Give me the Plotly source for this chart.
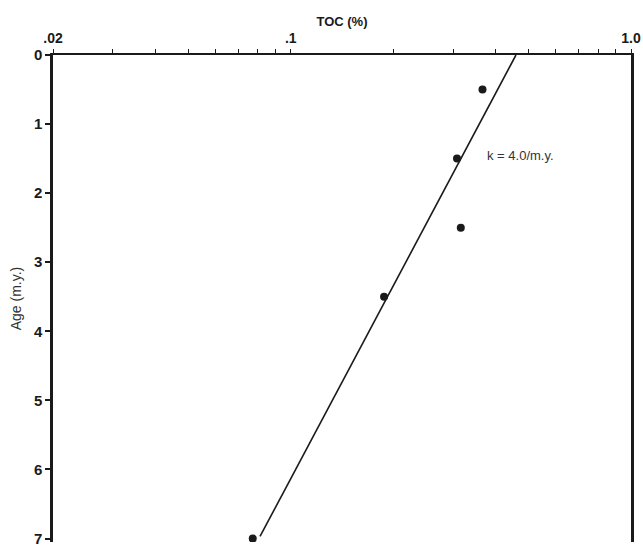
import math
import plotly.graph_objects as go

# Data
toc_pct = [0.366, 0.308, 0.316, 0.188, 0.0773]
age_my = [0.5, 1.5, 2.5, 3.5, 7.0]

fit_toc = [0.459, 0.0812]
fit_age = [0.0, 6.97]

x_tickvals = [0.02, 0.03, 0.04, 0.05, 0.06, 0.07, 0.08, 0.09, 0.1,
              0.2, 0.3, 0.4, 0.5, 0.6, 0.7, 0.8, 0.9, 1.0]
x_ticktext = [".02", "", "", "", "", "", "", "", ".1",
              "", "", "", "", "", "", "", "", "1.0"]
y_tickvals = [0, 1, 2, 3, 4, 5, 6, 7]

label_text = "k = 4.0/m.y."
label_toc = 0.372
label_age = 1.45

font_family = "Liberation Sans, Arial, sans-serif"
ink = "#1a1a1a"

fig = go.Figure()
fig.add_trace(go.Scatter(x=fit_toc, y=fit_age, mode="lines",
                         line=dict(color=ink, width=1.6), showlegend=False))
fig.add_trace(go.Scatter(x=toc_pct, y=age_my, mode="markers",
                         marker=dict(color=ink, size=8), showlegend=False))

# annotations on a log axis take log10 coordinates
fig.add_annotation(x=math.log10(label_toc), y=label_age, xref="x", yref="y",
                   text=label_text, showarrow=False, xanchor="left", yanchor="middle",
                   font=dict(family=font_family, size=13, color="#333"))

fig.update_layout(
    width=643, height=546,
    margin=dict(l=53, r=12, t=55, b=4),
    paper_bgcolor="white", plot_bgcolor="white",
    font=dict(family=font_family, color=ink),
    xaxis=dict(type="log", side="top", range=[-1.69897, 0.0],
               tickvals=x_tickvals, ticktext=x_ticktext,
               ticks="outside", ticklen=4, tickwidth=1.3, tickcolor=ink,
               showline=True, linewidth=2, linecolor=ink, mirror=False,
               showgrid=False, zeroline=False, automargin=False,
               ticklabeloverflow="allow",
               tickfont=dict(size=14, color=ink, weight=600),
               title=dict(text="TOC (%)", font=dict(size=13, color=ink, weight=600), standoff=1)),
    yaxis=dict(range=[7.05, 0], tickvals=y_tickvals,
               ticks="outside", ticklen=5, tickwidth=1.5, tickcolor=ink,
               showline=True, linewidth=2.5, linecolor=ink, mirror=True,
               showgrid=False, zeroline=False, automargin=False,
               ticklabeloverflow="allow",
               tickfont=dict(size=15, color=ink, weight=600),
               title=dict(text="Age (m.y.)", font=dict(size=14, color="#333"), standoff=10)),
)

fig.write_html("out.html", config={"displayModeBar": False},
               post_script="document.body.style.margin='0px';document.body.style.overflow='hidden';")
